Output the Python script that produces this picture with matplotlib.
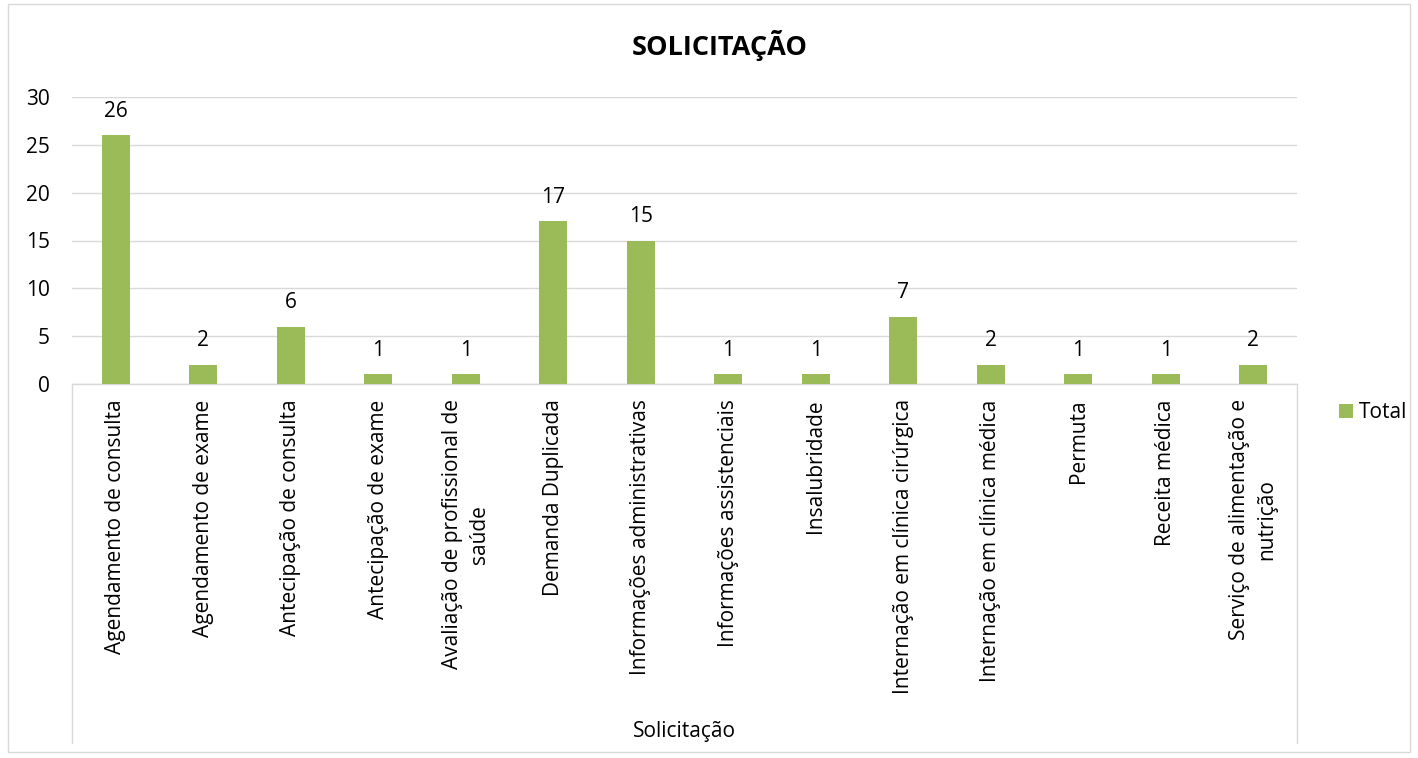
import matplotlib.pyplot as plt
from matplotlib.lines import Line2D
from matplotlib.patches import Rectangle

categorias = [
    'Agendamento de consulta',
    'Agendamento de exame',
    'Antecipação de consulta',
    'Antecipação de exame',
    'Avaliação de profissional de\nsaúde',
    'Demanda Duplicada',
    'Informações administrativas',
    'Informações assistenciais',
    'Insalubridade',
    'Internação em clínica cirúrgica',
    'Internação em clínica médica',
    'Permuta',
    'Receita médica',
    'Serviço de alimentação e\nnutrição',
]
total = [26, 2, 6, 1, 1, 17, 15, 1, 1, 7, 2, 1, 1, 2]
yticks = [0, 5, 10, 15, 20, 25, 30]

plt.rcParams['font.family'] = ['Open Sans', 'DejaVu Sans']
FS = 15

W, H = 1418, 758
fig = plt.figure(figsize=(W / 100, H / 100), dpi=100)

# chart border
fig.add_artist(Rectangle((8 / W, 1 - 752 / H), (1410 - 8) / W, (752 - 4) / H,
                         transform=fig.transFigure, fill=False,
                         edgecolor='#D9D9D9', linewidth=1))

ax = fig.add_axes([72 / W, 1 - 384 / H, (1297 - 72) / W, (384 - 97) / H])

x = range(len(categorias))
bars = ax.bar(x, total, width=0.315, color='#9BBB59', label='Total', zorder=3)

for xi, v in zip(x, total):
    ax.annotate(str(v), xy=(xi, v), xytext=(0, 13.5), textcoords='offset points',
                ha='center', va='baseline', fontsize=FS, color='black')

ax.set_xlim(-0.5, len(categorias) - 0.5)
ax.set_ylim(0, 30)
ax.set_yticks(yticks)
ax.yaxis.grid(True, color='#D9D9D9', linewidth=1)
ax.set_axisbelow(True)

ax.set_xticks(list(x))
ax.set_xticklabels(categorias, rotation=90, va='top', ha='center',
                   multialignment='center', fontsize=FS, linespacing=1.4)
ax.tick_params(axis='x', length=0, pad=11)
ax.tick_params(axis='y', length=0, pad=16, labelsize=FS)

for s in ['top', 'left', 'right']:
    ax.spines[s].set_visible(False)
ax.spines['bottom'].set_color('#D9D9D9')
ax.spines['bottom'].set_linewidth(1)

# category axis box lines
for px in (72, 1297):
    fig.add_artist(Line2D([px / W, px / W], [1 - 384 / H, 1 - 743 / H],
                          transform=fig.transFigure, color='#D9D9D9', linewidth=1))

fig.text(720 / W, 1 - 55 / H, 'SOLICITAÇÃO', ha='center', va='baseline',
         fontsize=19.5, fontweight='bold')
fig.text(684.5 / W, 1 - 737 / H, 'Solicitação', ha='center', va='baseline',
         fontsize=FS)

leg = fig.legend(handles=[bars], labels=['Total'], loc='center left',
                 bbox_to_anchor=(1339 / W, 1 - 413 / H), frameon=False,
                 borderpad=0, borderaxespad=0,
                 handlelength=0.67, handleheight=0.67, handletextpad=0.3,
                 fontsize=FS)

fig.savefig('out.png', dpi=100)
